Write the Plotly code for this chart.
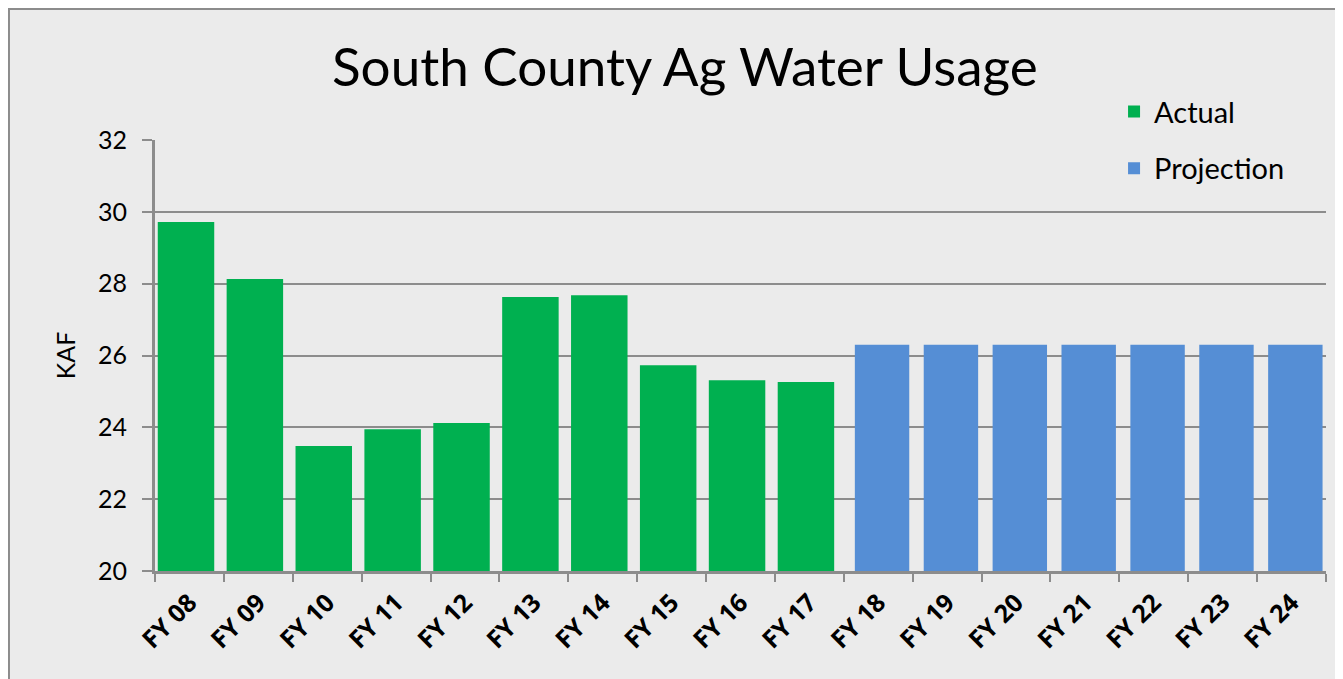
import plotly.graph_objects as go

actual_years = ["FY 08", "FY 09", "FY 10", "FY 11", "FY 12", "FY 13", "FY 14", "FY 15", "FY 16", "FY 17"]
actual_kaf = [29.72, 28.13, 23.48, 23.95, 24.12, 27.63, 27.68, 25.73, 25.31, 25.26]
proj_years = ["FY 18", "FY 19", "FY 20", "FY 21", "FY 22", "FY 23", "FY 24"]
proj_kaf = [26.3, 26.3, 26.3, 26.3, 26.3, 26.3, 26.3]
all_years = actual_years + proj_years
y_ticks = [20, 22, 24, 26, 28, 30, 32]

fig = go.Figure()
fig.add_trace(go.Bar(x=actual_years, y=actual_kaf, name="Actual", marker_color="#00B050",
                     marker_line_width=0, legendgroup="a", width=0.82, offset=-0.46))
fig.add_trace(go.Bar(x=proj_years, y=proj_kaf, name="Projection", marker_color="#558ED5",
                     marker_line_width=0, legendgroup="p", width=0.79, offset=-0.34))

fig.update_layout(
    width=1343, height=679,
    paper_bgcolor="#EBEBEB", plot_bgcolor="#EBEBEB",
    margin=dict(l=147, r=25, t=132, b=116, autoexpand=False),
    barmode="overlay",
    title=dict(text="South County Ag Water Usage", x=0.504, xanchor="center", y=0.912, yanchor="middle",
               font=dict(family="Lato", size=53, color="#000000")),
    legend=dict(x=0.819, y=1.125, xanchor="left", yanchor="top", bgcolor="rgba(0,0,0,0)",
                font=dict(family="Lato", size=29, color="#000000"), tracegroupgap=16,
                traceorder="grouped"),
    font=dict(family="Lato", color="#000000"),
    shapes=[dict(type="rect", xref="paper", yref="paper", x0=-0.1247, x1=1.2, y0=-0.5, y1=1.304,
                 line=dict(color="#8C8C8C", width=2), fillcolor="rgba(0,0,0,0)", layer="below")],
)
fig.update_xaxes(categoryorder="array", categoryarray=all_years, type="category",
                 showline=True, linecolor="#8C8C8C", linewidth=3,
                 ticks="outside", ticklen=8, tickcolor="#8C8C8C", tickwidth=2,
                 tickson="boundaries", tickangle=-45, ticklabelstandoff=4,
                 tickfont=dict(family="Open Sans", size=25, color="#000000", weight="bold"),
                 range=[-0.5, 16.5])
fig.update_yaxes(range=[20, 32], tickvals=y_ticks,
                 showgrid=True, gridcolor="#8C8C8C", gridwidth=2,
                 showline=True, linecolor="#8C8C8C", linewidth=3,
                 ticks="outside", ticklen=10, tickcolor="#8C8C8C", tickwidth=2,
                 ticklabelstandoff=10,
                 tickfont=dict(family="Lato", size=25, color="#000000"),
                 title=dict(text="KAF", font=dict(family="Lato", size=25, color="#000000"), standoff=16),
                 zeroline=False)

fig.write_html("out.html")
